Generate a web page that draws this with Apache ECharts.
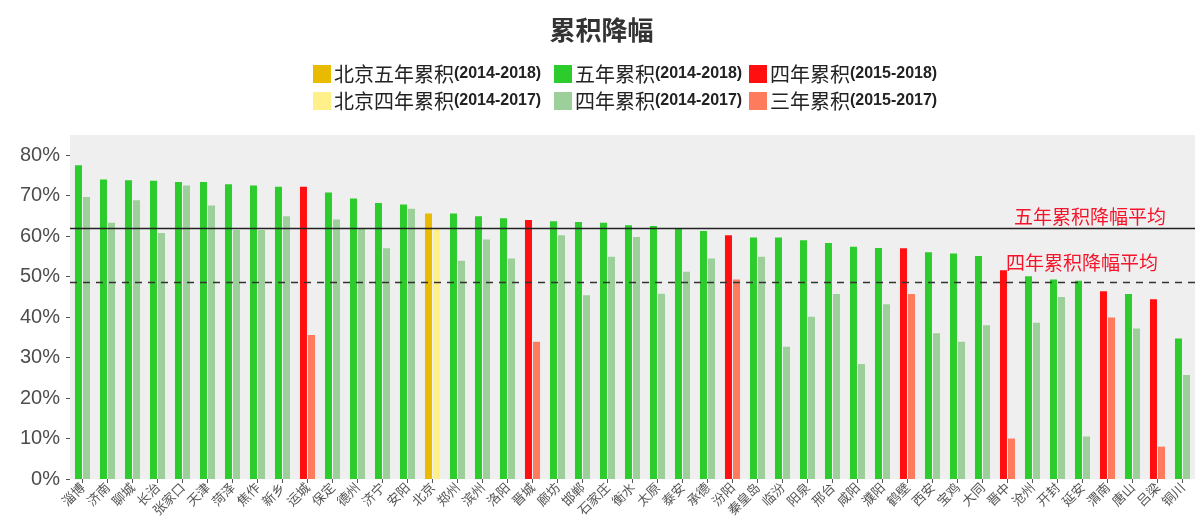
<!DOCTYPE html>
<html>
<head>
<meta charset="utf-8">
<script src="https://cdn.jsdelivr.net/npm/echarts@6/dist/echarts.min.js"></script>
<style>
html,body{margin:0;padding:0;background:#fff;}
#chart{width:1203px;height:525px;}
</style>
</head>
<body>
<div id="chart"></div>
<script>
// ---- data ----
const cities = ['淄博','济南','聊城','长治','张家口','天津','菏泽','焦作','新乡','运城',
  '保定','德州','济宁','安阳','北京','郑州','滨州','洛阳','晋城','廊坊',
  '邯郸','石家庄','衡水','太原','泰安','承德','汾阳','秦皇岛','临汾','阳泉',
  '邢台','咸阳','濮阳','鹤壁','西安','宝鸡','大同','晋中','沧州','开封',
  '延安','渭南','唐山','吕梁','铜川'];
// kind of each city: 'bj' = Beijing, 'g' = five-year data, 'r' = four-year data (from 2015)
const kinds = ['g','g','g','g','g','g','g','g','g','r',
  'g','g','g','g','bj','g','g','g','r','g',
  'g','g','g','g','g','g','r','g','g','g',
  'g','g','g','r','g','g','g','r','g','g',
  'g','r','g','r','g'];
// longer-period cumulative decline (%)
const longDecline = [77.5,74.0,73.8,73.7,73.4,73.4,72.8,72.5,72.2,72.2,
  70.8,69.3,68.2,67.8,65.6,65.6,64.9,64.4,64.0,63.7,
  63.5,63.3,62.7,62.5,61.9,61.3,60.2,59.7,59.7,59.0,
  58.3,57.4,57.1,57.0,56.0,55.7,55.1,51.6,50.1,49.3,
  49.0,46.4,45.7,44.4,34.7];
// shorter-period cumulative decline (%)
const shortDecline = [69.7,63.3,68.9,60.8,72.5,67.6,61.5,61.5,64.9,35.6,
  64.1,61.9,57.0,66.8,62.0,53.9,59.2,54.5,33.9,60.2,
  45.4,54.9,59.8,45.8,51.2,54.5,49.3,54.9,32.7,40.1,
  45.7,28.4,43.2,45.7,36.0,33.9,38.0,10.0,38.6,45.0,
  10.5,39.9,37.2,8.0,25.7];
const fiveYearAvg = 62.0;
const fourYearAvg = 48.5;
const yTicks = [0,10,20,30,40,50,60,70,80];

const seriesNames = {
  bj5:'北京五年累积(2014-2018)', g5:'五年累积(2014-2018)', r4:'四年累积(2015-2018)',
  bj4:'北京四年累积(2014-2017)', g4:'四年累积(2014-2017)', r3:'三年累积(2015-2017)'
};
const colors = {
  bj5:'#e8bb00', g5:'#2ccc2c', r4:'#ff0f0f',
  bj4:'#fff08a', g4:'#9ccf99', r3:'#ff7b5e'
};

function pick(arr, kind){ return arr.map((v,i)=> kinds[i]===kind ? v : '-'); }

function barSeries(key, arr, kind, stack){
  return {
    name: seriesNames[key], type:'bar', stack: stack,
    data: pick(arr, kind), barWidth: 7, barGap: '15%',
    itemStyle:{color: colors[key]}, emphasis:{disabled:true}
  };
}

const series = [
  barSeries('bj5', longDecline, 'bj', 'p'),
  barSeries('g5', longDecline, 'g', 'p'),
  barSeries('r4', longDecline, 'r', 'p'),
  barSeries('bj4', shortDecline, 'bj', 's'),
  barSeries('g4', shortDecline, 'g', 's'),
  barSeries('r3', shortDecline, 'r', 's')
];
series[1].markLine = {
  silent:true, symbol:'none', animation:false,
  data:[
    {yAxis: fiveYearAvg, lineStyle:{color:'#222', width:1.3, type:'solid'},
     label:{show:true, formatter:'五年累积降幅平均', position:'insideEndTop', distance:2,
       padding:[0,27,0,0], color:'#f5142a', fontSize:19, fontFamily:'Noto Sans CJK SC'}},
    {yAxis: fourYearAvg, lineStyle:{color:'#333', width:1.3, type:[7,6]},
     label:{show:true, formatter:'四年累积降幅平均', position:'insideEndTop', distance:10,
       padding:[0,27,0,0], color:'#f5142a', fontSize:19, fontFamily:'Noto Sans CJK SC'}}
  ]
};

const legendCols = [313, 554, 749];
const legendRows = [64, 91];
const legendKeys = [['bj5','g5','r4'],['bj4','g4','r3']];
const legends = [];
legendKeys.forEach((row, r)=> row.forEach((k, c)=>{
  legends.push({
    data:[seriesNames[k]], left: legendCols[c], top: legendRows[r],
    itemWidth:18, itemHeight:18, itemGap:0, icon:'rect', selectedMode:false,
    padding:0,
    formatter: (n)=>{ const p = n.indexOf('('); return '{cn|'+n.slice(0,p)+'}{num|'+n.slice(p)+'}'; },
    textStyle:{ padding:[0,0,0,-2], rich:{
      cn:{fontFamily:'Noto Sans CJK SC', fontSize:20, color:'#222'},
      num:{fontFamily:'Liberation Sans', fontWeight:'bold', fontSize:16, color:'#222'}
    }}
  });
}));

const chart = echarts.init(document.getElementById('chart'), null, {renderer:'canvas'});
chart.setOption({
  animation:false,
  backgroundColor:'#ffffff',
  title:{text:'累积降幅', left:'center', top:12,
    textStyle:{fontFamily:'Noto Sans CJK SC', fontSize:26, fontWeight:'bold', color:'#333'}},
  legend: legends,
  grid:{left:70, right:8, top:135, bottom:46, show:true, backgroundColor:'#efefef', borderWidth:0},
  xAxis:{
    type:'category', data: cities,
    axisLine:{show:false},
    axisTick:{show:true, alignWithLabel:true, length:4, lineStyle:{color:'#555'}},
    axisLabel:{rotate:45, interval:0, fontSize:13, color:'#555', margin:6, fontFamily:'Noto Sans CJK SC'}
  },
  yAxis:{
    type:'value', min:0, max:85, interval:10,
    axisLine:{show:false},
    axisTick:{show:true, length:4, lineStyle:{color:'#555'}},
    splitLine:{show:false},
    axisLabel:{fontSize:20, color:'#4d4d4d', margin:10, fontFamily:'Liberation Sans',
      showMaxLabel:false,
      formatter:(v)=> yTicks.indexOf(v) >= 0 ? v + '%' : ''}
  },
  series: series
});
</script>
</body>
</html>
